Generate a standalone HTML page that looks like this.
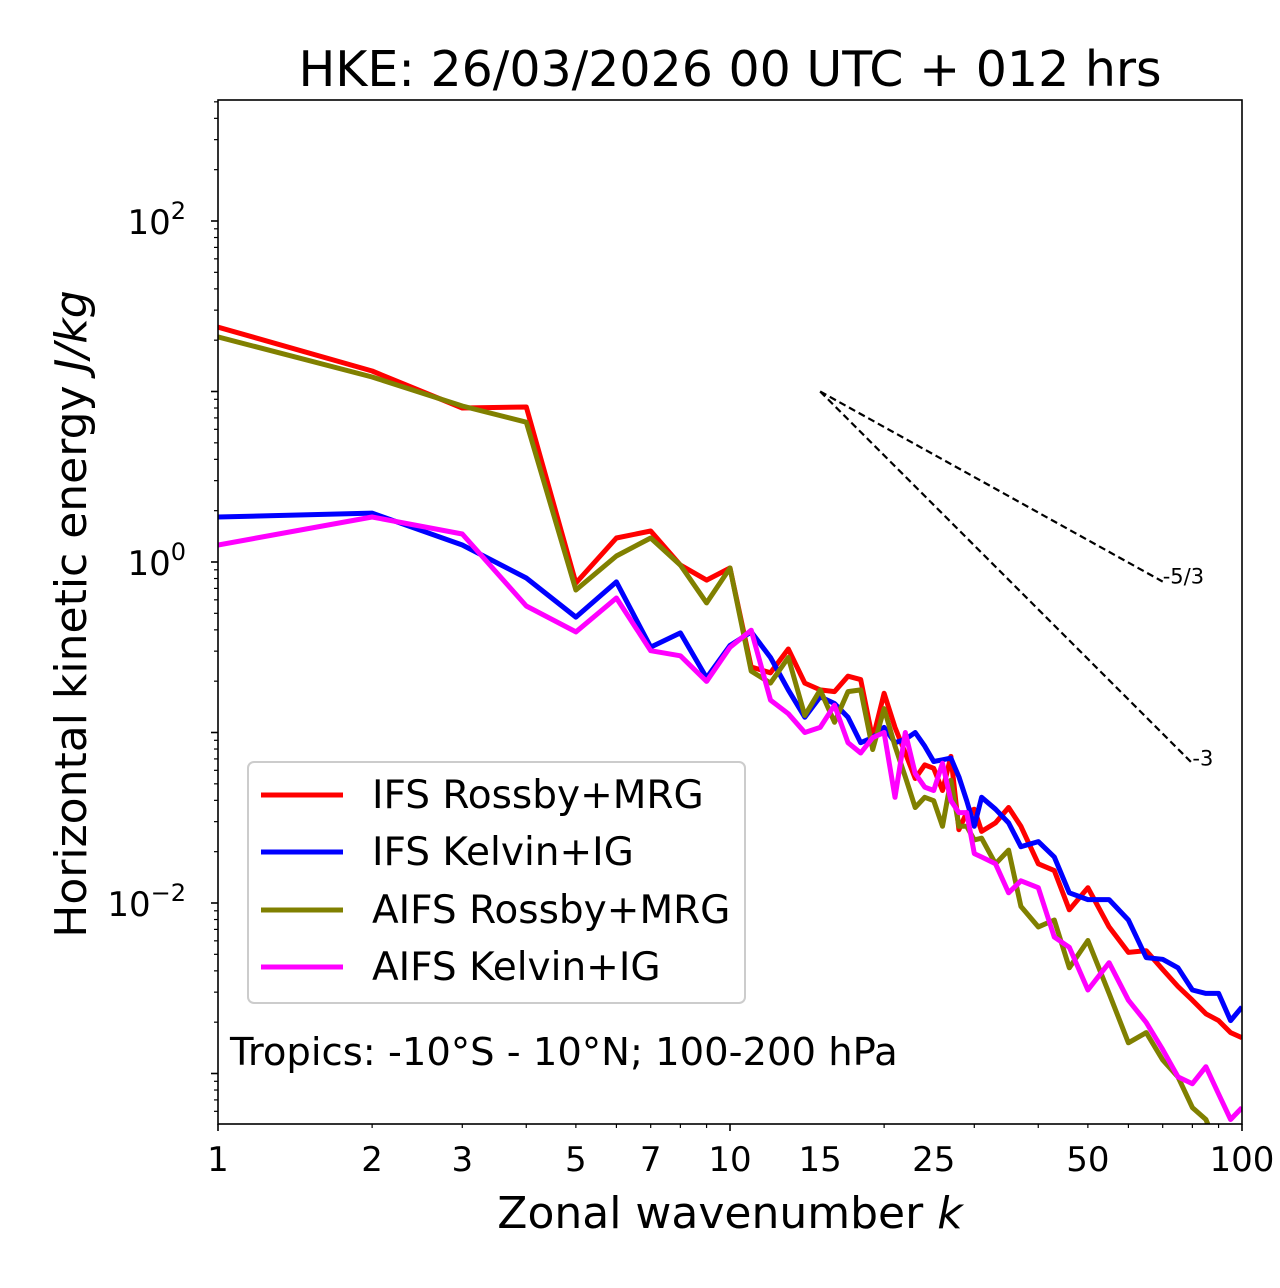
<!DOCTYPE html>
<html><head><meta charset="utf-8"><style>
body{margin:0;background:#fff}
svg{display:block;font-family:"DejaVu Sans","Liberation Sans",sans-serif}
</style></head><body>
<svg id="chart" width="1280" height="1288" viewBox="0 0 1280 1288">
<text x="730" y="86" font-size="49" text-anchor="middle">HKE: 26/03/2026 00 UTC + 012 hrs</text>
<g id="plot"></g>
<g id="axes"></g>
<text x="730" y="1228" font-size="44" text-anchor="middle">Zonal wavenumber <tspan font-style="italic">k</tspan></text>
<text transform="translate(86,614) rotate(-90)" font-size="44" text-anchor="middle">Horizontal kinetic energy <tspan font-style="italic">J/kg</tspan></text>
<g>
<rect x="248" y="762" width="497" height="241" rx="6" fill="#fff" fill-opacity="0.8" stroke="#ccc" stroke-width="2"/>
<line x1="261" y1="795" x2="343" y2="795" stroke="#ff0000" stroke-width="5"/>
<text x="372" y="808" font-size="39">IFS Rossby+MRG</text>
<line x1="261" y1="852" x2="343" y2="852" stroke="#0000ff" stroke-width="5"/>
<text x="372" y="865" font-size="39">IFS Kelvin+IG</text>
<line x1="261" y1="910" x2="343" y2="910" stroke="#808000" stroke-width="5"/>
<text x="372" y="923" font-size="39">AIFS Rossby+MRG</text>
<line x1="261" y1="967" x2="343" y2="967" stroke="#ff00ff" stroke-width="5"/>
<text x="372" y="980" font-size="39">AIFS Kelvin+IG</text>
</g>
<text x="230" y="1065" font-size="38.5">Tropics: -10°S - 10°N; 100-200 hPa</text>
</svg>
<script>
const ks=[1,2,3,4,5,6,7,8,9,10,11,12,13,14,15,16,17,18,19,20,21,22,23,24,25,26,27,28,29,30,31,33,35,37,40,43,46,50,55,60,65,70,75,80,85,90,95,100];
// log10 of energy (J/kg)
const ifsRossby=[1.378,1.12,0.903,0.909,-0.123,0.141,0.182,-0.018,-0.106,-0.035,-0.616,-0.65,-0.51,-0.71,-0.75,-0.76,-0.67,-0.69,-1.04,-0.77,-0.97,-1.12,-1.27,-1.19,-1.21,-1.34,-1.14,-1.57,-1.47,-1.45,-1.58,-1.53,-1.44,-1.55,-1.77,-1.81,-2.04,-1.91,-2.14,-2.29,-2.28,-2.39,-2.49,-2.57,-2.65,-2.69,-2.76,-2.79];
const ifsKelvin=[0.264,0.287,0.10,-0.094,-0.323,-0.117,-0.499,-0.416,-0.68,-0.49,-0.41,-0.56,-0.75,-0.91,-0.79,-0.83,-0.91,-1.06,-1.03,-0.97,-1.06,-1.04,-1.00,-1.08,-1.17,-1.16,-1.15,-1.26,-1.40,-1.55,-1.38,-1.45,-1.53,-1.67,-1.64,-1.73,-1.94,-1.98,-1.98,-2.10,-2.32,-2.33,-2.38,-2.51,-2.53,-2.53,-2.69,-2.61];
const aifsRossby=[1.32,1.085,0.915,0.82,-0.164,0.035,0.141,-0.018,-0.24,-0.035,-0.64,-0.71,-0.56,-0.90,-0.75,-0.94,-0.76,-0.75,-1.10,-0.86,-1.08,-1.26,-1.44,-1.38,-1.40,-1.55,-1.28,-1.55,-1.55,-1.63,-1.62,-1.77,-1.69,-2.02,-2.14,-2.10,-2.38,-2.22,-2.53,-2.82,-2.76,-2.92,-3.02,-3.20,-3.27,-3.45,-3.5,-3.5];
const aifsKelvin=[0.10,0.264,0.164,-0.258,-0.41,-0.211,-0.52,-0.55,-0.70,-0.50,-0.40,-0.81,-0.89,-1.00,-0.97,-0.84,-1.06,-1.12,-1.03,-1.00,-1.38,-1.00,-1.24,-1.32,-1.34,-1.18,-1.40,-1.47,-1.47,-1.71,-1.73,-1.77,-1.94,-1.87,-1.91,-2.20,-2.26,-2.51,-2.35,-2.57,-2.70,-2.86,-3.02,-3.06,-2.96,-3.12,-3.27,-3.20];
const xTickVals=[1,2,3,5,7,10,15,25,50,100];
const xTickLabels=["1","2","3","5","7","10","15","25","50","100"];
const yTickExps=[-2,0,2];
const refSlopes=[5/3,3];
const refLabels=["-5/3","-3"];
const refEndK=[70,80];
const refStartK=15, refStartE=10;

const NS="http://www.w3.org/2000/svg";
const L=218,R=1242,T=100,B=1124;
const xs=k=>L+(R-L)*Math.log10(k)/2;
const ys=lg=>562-(lg)*170.5;
function mk(tag,attrs,parent){const e=document.createElementNS(NS,tag);for(const a in attrs)e.setAttribute(a,attrs[a]);parent.appendChild(e);return e;}
const plot=document.getElementById('plot'),axes=document.getElementById('axes');
const defs=mk('defs',{},plot);
const cp=mk('clipPath',{id:'clip'},defs);mk('rect',{x:L,y:T,width:R-L,height:B-T},cp);
const g=mk('g',{'clip-path':'url(#clip)'},plot);
const series=[[ifsRossby,'#ff0000','ifs-rossby-line'],[ifsKelvin,'#0000ff','ifs-kelvin-line'],[aifsRossby,'#808000','aifs-rossby-line'],[aifsKelvin,'#ff00ff','aifs-kelvin-line']];
series.forEach(([vals,col,name])=>{
  const p=mk('polyline',{points:vals.map((v,i)=>xs(ks[i]).toFixed(1)+','+ys(v).toFixed(1)).join(' '),fill:'none',stroke:col,'stroke-width':5,'stroke-linejoin':'round'},g);
  
  
});
refSlopes.forEach((s,i)=>{
  const e0=Math.log10(refStartE), e1=e0-s*Math.log10(refEndK[i]/refStartK);
  const ln=mk('line',{x1:xs(refStartK),y1:ys(e0),x2:xs(refEndK[i]),y2:ys(e1),stroke:'#000','stroke-width':2.2,'stroke-dasharray':'7,4'},plot);
  
  
  const t=mk('text',{x:xs(refEndK[i]),y:ys(e1)+2,'font-size':21},plot);t.textContent=refLabels[i];
  
  
});
const frame=mk('rect',{x:L,y:T,width:R-L,height:B-T,fill:'none',stroke:'#000','stroke-width':1.6},axes);


for(let d=1;d<=100;d*=10){for(let m=1;m<10;m++){const k=d*m;if(k>100)break;const maj=(m===1);
  mk('line',{x1:xs(k),y1:B,x2:xs(k),y2:B+(maj?7:4),stroke:'#000','stroke-width':maj?1.6:1.2},axes);}}
xTickVals.forEach((k,i)=>{const t=mk('text',{x:xs(k),y:B+47,'font-size':34,'text-anchor':'middle'},axes);t.textContent=xTickLabels[i];
  
  });
for(let e=-4;e<=3;e++){for(let m=1;m<10;m++){const lg=e+Math.log10(m);const y=ys(lg);if(y<T-0.5||y>B+0.5)continue;const maj=(m===1);
  mk('line',{x1:L,y1:y,x2:L-(maj?7:4),y2:y,stroke:'#000','stroke-width':maj?1.6:1.2},axes);}}
yTickExps.forEach(e=>{const t=mk('text',{x:186,y:ys(e)+13,'font-size':34,'text-anchor':'end'},axes);
  t.textContent='10';const s=mk('tspan',{dy:-15,'font-size':24},t);s.textContent=(e<0?'\u2212':'')+Math.abs(e);
  
  });
</script>
</body></html>
